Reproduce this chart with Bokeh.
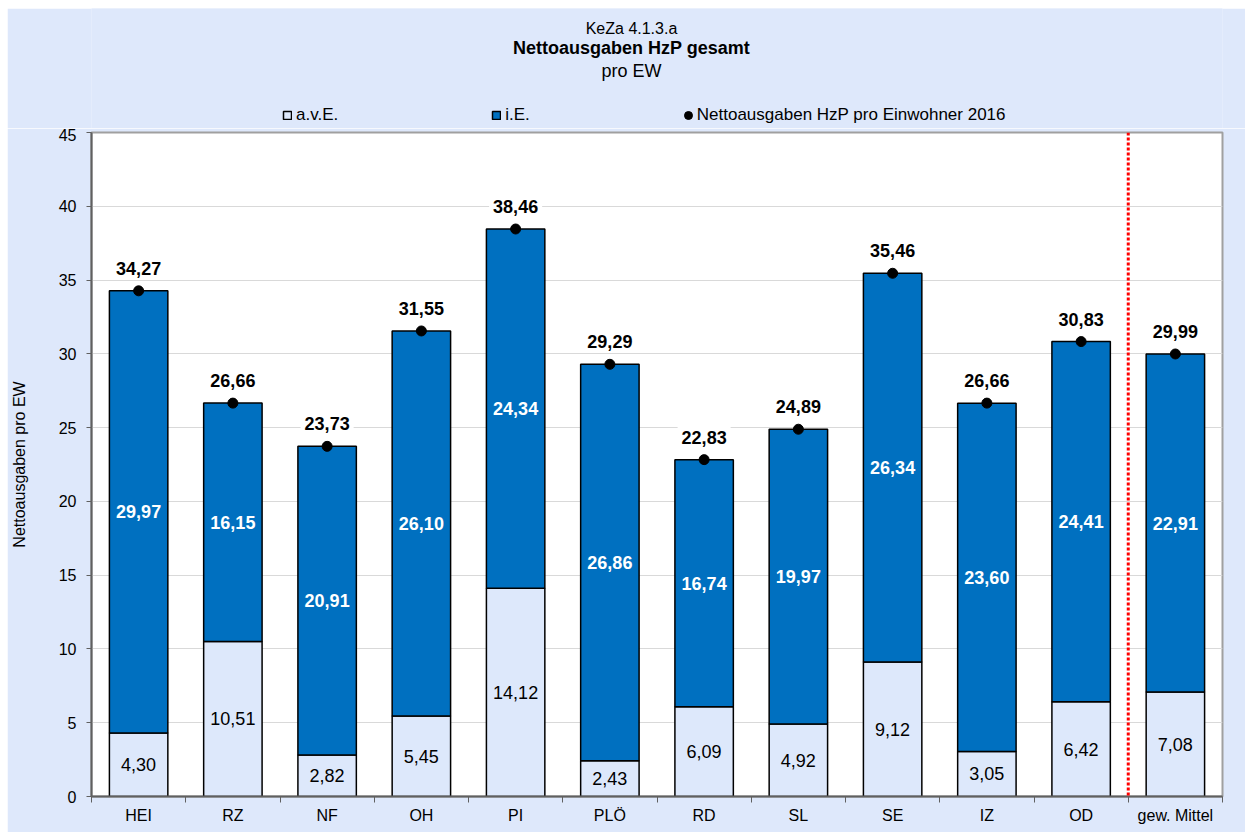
from bokeh.plotting import figure
from bokeh.models import (ColumnDataSource, LabelSet, Label, Span, Legend, LegendItem,
                          FixedTicker, Range1d, Spacer, BoxAnnotation)
from bokeh.layouts import column, row
from bokeh.core.properties import value
from bokeh.embed import file_html
from bokeh.resources import INLINE

categories = ["HEI", "RZ", "NF", "OH", "PI", "PLÖ", "RD", "SL", "SE", "IZ", "OD", "gew. Mittel"]
ave = [4.30, 10.51, 2.82, 5.45, 14.12, 2.43, 6.09, 4.92, 9.12, 3.05, 6.42, 7.08]
ie = [29.97, 16.15, 20.91, 26.10, 24.34, 26.86, 16.74, 19.97, 26.34, 23.60, 24.41, 22.91]
total = [34.27, 26.66, 23.73, 31.55, 38.46, 29.29, 22.83, 24.89, 35.46, 26.66, 30.83, 29.99]
y_ticks = [0, 5, 10, 15, 20, 25, 30, 35, 40, 45]
title_lines = ["KeZa 4.1.3.a", "Nettoausgaben HzP gesamt", "pro EW"]
legend_labels = ["a.v.E.", "i.E.", "Nettoausgaben HzP pro Einwohner 2016"]

FONT = "Liberation Sans"
BG = "#dee8fb"
LIGHT = "#dde8fb"
BLUE = "#0070c0"


def fmt(v):
    return f"{v:.2f}".replace(".", ",")


xs = list(range(len(categories)))
src = ColumnDataSource(dict(
    x=xs,
    ave=ave,
    ie_top=[a + b for a, b in zip(ave, ie)],
    total=total,
    ave_mid=[a / 2 for a in ave],
    ie_mid=[a + b / 2 for a, b in zip(ave, ie)],
    ave_lbl=[fmt(v) for v in ave],
    ie_lbl=[fmt(v) for v in ie],
))


def draw_series(fig):
    r1 = fig.vbar(x="x", width=0.62, bottom=0, top="ave", source=src,
                  fill_color=LIGHT, line_color="black", line_width=1.5)
    r2 = fig.vbar(x="x", width=0.62, bottom="ave", top="ie_top", source=src,
                  fill_color=BLUE, line_color="black", line_width=1.5)
    r3 = fig.ellipse(x="x", y="total", width=10, height=10, width_units="screen",
                     height_units="screen", source=src, fill_color="black", line_color="black")
    return [r1, r2, r3]


# ---------------- main chart ----------------
p = figure(width=1238, height=704, title=None,
           x_range=Range1d(-0.5, len(categories) - 0.5), y_range=Range1d(0, 45),
           output_backend="svg", toolbar_location=None,
           min_border_left=84, min_border_right=23, min_border_bottom=36, min_border_top=4,
           border_fill_color=BG, background_fill_color="white",
           outline_line_color="#a0a0a0", outline_line_width=2)

draw_series(p)

p.add_layout(Span(location=len(categories) - 1.5, dimension="height", line_color="red",
                  line_dash="3 2", line_width=3))

p.xgrid.visible = False
p.ygrid.grid_line_color = "#d9d9d9"
p.ygrid.ticker = FixedTicker(ticks=y_ticks)

p.yaxis.ticker = FixedTicker(ticks=y_ticks)
p.yaxis.minor_tick_line_color = None
p.yaxis.major_tick_out = 5
p.yaxis.major_tick_in = 0
p.yaxis.major_tick_line_color = "#606060"
p.yaxis.axis_line_color = "#606060"
p.yaxis.axis_line_width = 2
p.yaxis.major_label_text_font = FONT
p.yaxis.major_label_text_font_size = "16px"
p.yaxis.major_label_text_color = "black"
p.yaxis.major_label_standoff = 10
p.yaxis.axis_label = "Nettoausgaben pro EW"
p.yaxis.axis_label_text_font = FONT
p.yaxis.axis_label_text_font_size = "16px"
p.yaxis.axis_label_text_font_style = "normal"
p.yaxis.axis_label_text_color = "black"
p.yaxis.axis_label_standoff = 28

p.xaxis.ticker = FixedTicker(ticks=xs, minor_ticks=[i - 0.5 for i in range(len(categories) + 1)])
p.xaxis.major_label_overrides = {i: c for i, c in zip(xs, categories)}
p.xaxis.major_tick_line_color = None
p.xaxis.major_tick_out = 6
p.xaxis.major_tick_in = 0
p.xaxis.minor_tick_line_color = "#606060"
p.xaxis.minor_tick_out = 6
p.xaxis.minor_tick_in = 0
p.xaxis.axis_line_color = "#606060"
p.xaxis.axis_line_width = 2
p.xaxis.major_label_text_font = FONT
p.xaxis.major_label_text_font_size = "16px"
p.xaxis.major_label_text_color = "black"
p.xaxis.major_label_standoff = 4

p.add_layout(LabelSet(x="x", y="ave_mid", text="ave_lbl", source=src,
                      text_font=value(FONT), text_font_size="18px", text_color="black",
                      text_align="center", text_baseline="middle"))
p.add_layout(LabelSet(x="x", y="ie_mid", text="ie_lbl", source=src,
                      text_font=value(FONT), text_font_size="18px", text_color="white",
                      text_font_style="bold", text_align="center", text_baseline="middle"))
for xi, tv in zip(xs, total):
    p.add_layout(Label(x=xi, y=tv, text=fmt(tv), text_font=FONT, text_font_size="18px",
                       text_color="black", text_font_style="bold", text_align="center",
                       text_baseline="bottom", y_offset=12, background_fill_color="white",
                       padding=4))

# ---------------- header: titles + legend ----------------
h = figure(width=1238, height=120, title=None,
           x_range=Range1d(-0.5, len(categories) - 0.5), y_range=Range1d(0, 45),
           x_axis_type=None, y_axis_type=None,
           output_backend="svg", toolbar_location=None,
           min_border_left=0, min_border_right=0, min_border_bottom=0, min_border_top=0,
           border_fill_color=BG, background_fill_color=BG, outline_line_color=None)
h.grid.visible = False

# the same series drawn as legend sources, then covered by an opaque box
proxies = draw_series(h)
h.add_layout(BoxAnnotation(fill_color=BG, fill_alpha=1.0, line_color=None, line_alpha=0))

legend = Legend(items=[LegendItem(label=lbl, renderers=[r]) for lbl, r in zip(legend_labels, proxies)],
                orientation="horizontal", spacing=153, glyph_width=10, glyph_height=10,
                label_standoff=4, label_text_font=FONT, label_text_font_size="17px",
                label_height=20, label_text_color="black", border_line_color=None,
                background_fill_alpha=0, padding=0, margin=0, location=(191, 3),
                level="overlay")
h.add_layout(legend, "center")

title_y = [100, 81, 58]
title_style = ["normal", "bold", "normal"]
title_size = ["16px", "18px", "18px"]
for txt, ty, st, sz in zip(title_lines, title_y, title_style, title_size):
    h.add_layout(Label(x=540, y=ty, x_units="screen", y_units="screen", text=txt,
                       text_font=FONT, text_font_size=sz, text_font_style=st,
                       text_color="black", text_align="center", text_baseline="middle",
                       level="overlay"))

layout = column(Spacer(height=8, width=1245),
                row(Spacer(width=7, height=824), column(h, p)))

open("out.html", "w").write(file_html(layout, INLINE))
